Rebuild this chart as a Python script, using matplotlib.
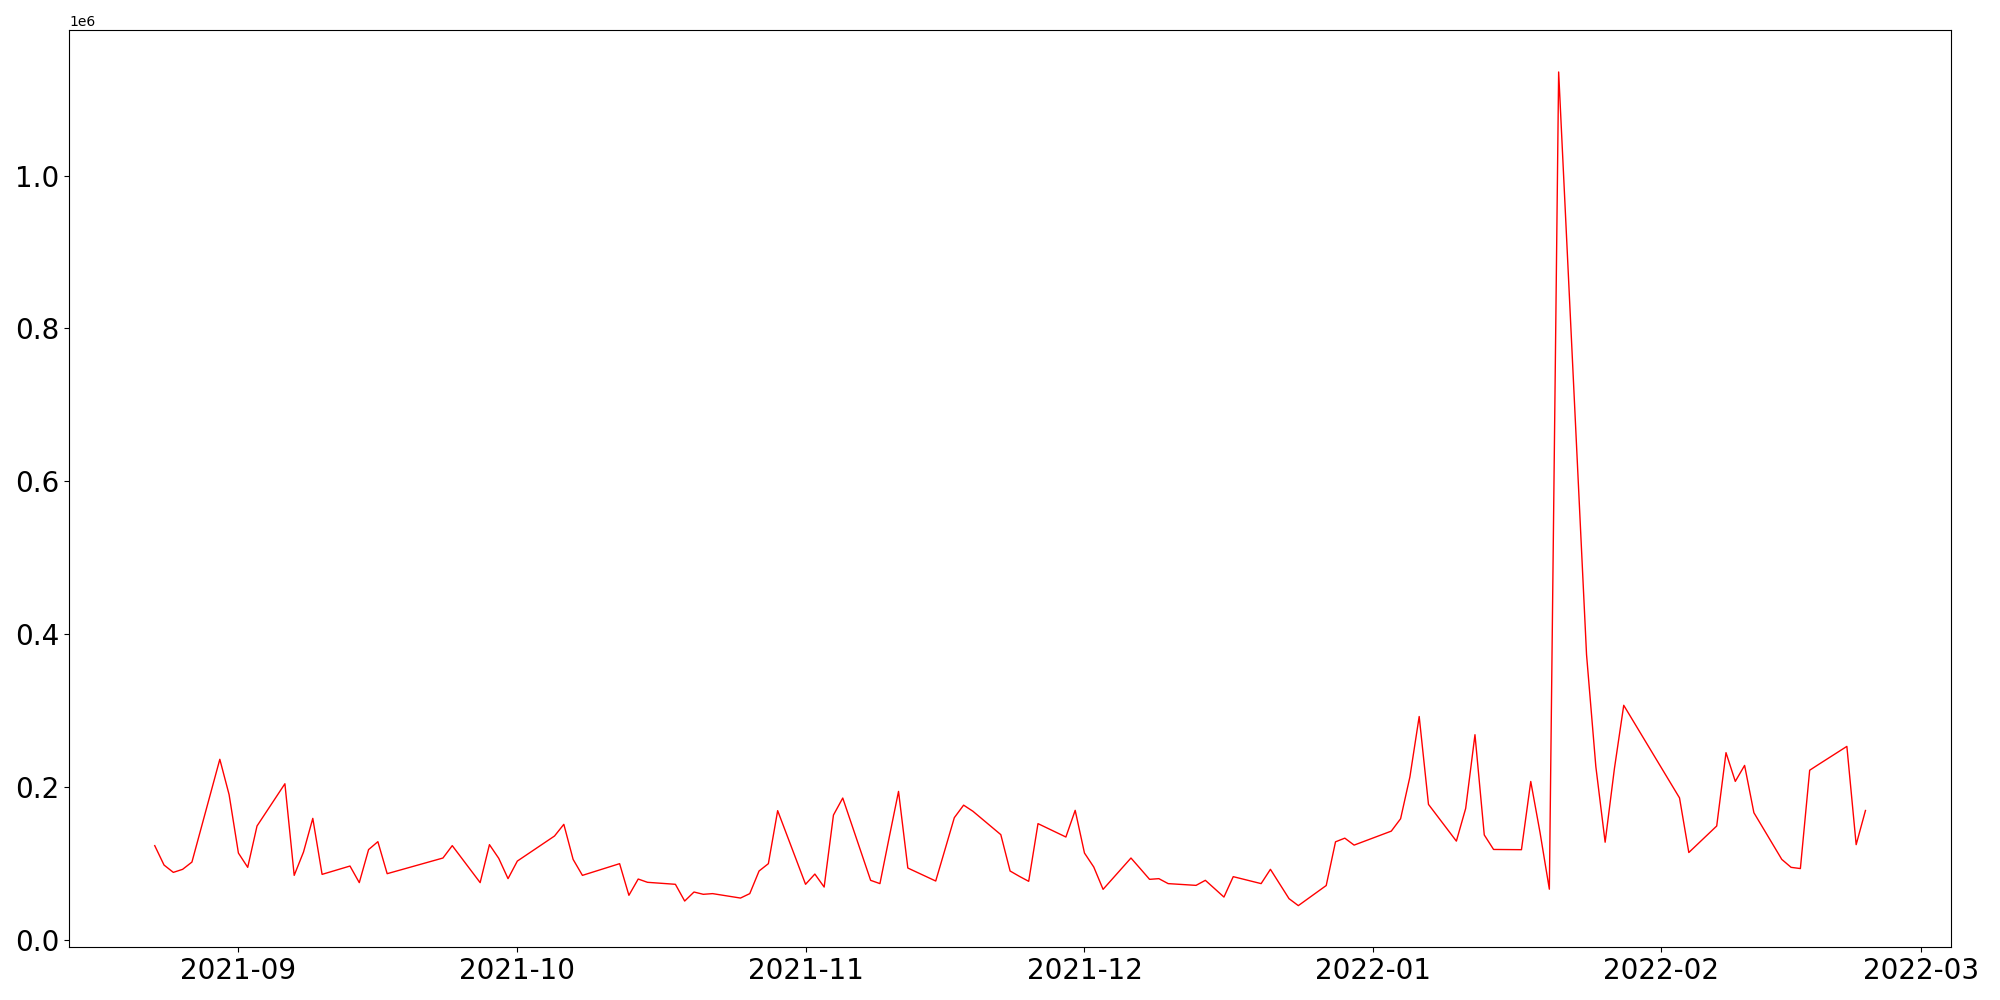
import matplotlib
matplotlib.use("Agg")
import matplotlib.pyplot as plt
import matplotlib.dates as mdates
import pandas as pd

dates = [
    "2021-08-23", "2021-08-24", "2021-08-25", "2021-08-26", "2021-08-27",
    "2021-08-30", "2021-08-31", "2021-09-01", "2021-09-02", "2021-09-03",
    "2021-09-06", "2021-09-07", "2021-09-08", "2021-09-09", "2021-09-10",
    "2021-09-13", "2021-09-14", "2021-09-15", "2021-09-16", "2021-09-17",
    "2021-09-23", "2021-09-24",
    "2021-09-27", "2021-09-28", "2021-09-29", "2021-09-30", "2021-10-01",
    "2021-10-05", "2021-10-06", "2021-10-07", "2021-10-08",
    "2021-10-12", "2021-10-13", "2021-10-14", "2021-10-15",
    "2021-10-18", "2021-10-19", "2021-10-20", "2021-10-21", "2021-10-22",
    "2021-10-25", "2021-10-26", "2021-10-27", "2021-10-28", "2021-10-29",
    "2021-11-01", "2021-11-02", "2021-11-03", "2021-11-04", "2021-11-05",
    "2021-11-08", "2021-11-09", "2021-11-10", "2021-11-11", "2021-11-12",
    "2021-11-15", "2021-11-16", "2021-11-17", "2021-11-18", "2021-11-19",
    "2021-11-22", "2021-11-23", "2021-11-24", "2021-11-25", "2021-11-26",
    "2021-11-29", "2021-11-30", "2021-12-01", "2021-12-02", "2021-12-03",
    "2021-12-06", "2021-12-07", "2021-12-08", "2021-12-09", "2021-12-10",
    "2021-12-13", "2021-12-14", "2021-12-15", "2021-12-16", "2021-12-17",
    "2021-12-20", "2021-12-21", "2021-12-22", "2021-12-23", "2021-12-24",
    "2021-12-27", "2021-12-28", "2021-12-29", "2021-12-30",
    "2022-01-03", "2022-01-04", "2022-01-05", "2022-01-06", "2022-01-07",
    "2022-01-10", "2022-01-11", "2022-01-12", "2022-01-13", "2022-01-14",
    "2022-01-17", "2022-01-18", "2022-01-19", "2022-01-20", "2022-01-21",
    "2022-01-24", "2022-01-25", "2022-01-26", "2022-01-27", "2022-01-28",
    "2022-02-03", "2022-02-04",
    "2022-02-07", "2022-02-08", "2022-02-09", "2022-02-10", "2022-02-11",
    "2022-02-14", "2022-02-15", "2022-02-16", "2022-02-17", "2022-02-18",
    "2022-02-21", "2022-02-22", "2022-02-23",
]

volumes = [
    123000, 97600, 88000, 92000, 101500,
    236000, 189700, 113300, 94600, 148700,
    204000, 84100, 114600, 158700, 85400,
    96300, 74600, 117800, 128200, 86300,
    106800, 123000,
    74600, 124300, 106400, 79800, 102800,
    135600, 150900, 105000, 84100,
    99400, 58000, 79300, 75000,
    72400, 50500, 62300, 59300, 60200,
    54400, 60200, 89800, 99400, 168800,
    72400, 85800, 68800, 163000, 185300,
    77600, 73300, 134000, 194000, 93700,
    76700, 118000, 159600, 176000, 168000,
    137400, 89800, 82800, 76300, 151800,
    134300, 169200, 113300, 95000, 65800,
    106800, 92900, 78900, 79800, 73300,
    71000, 77600, 66700, 55700, 82400,
    73300, 92000, 72800, 53600, 44500,
    70800, 128000, 132800, 123700,
    142000, 158200, 212900, 292000, 177000,
    128900, 171700, 268200, 137000, 118000,
    117700, 207000, 140000, 66000, 1135600,
    373000, 226500, 127500, 224000, 306700,
    185500, 114000,
    148700, 244700, 207100, 228000, 166100,
    105000, 94600, 93000, 221700, 229600,
    252900, 124300, 169000,
]

x = pd.to_datetime(dates)

fig, ax = plt.subplots(figsize=(20, 10), dpi=100)
ax.plot(x, volumes, color="red", linewidth=1.0)

ax.xaxis.set_major_locator(mdates.MonthLocator())
ax.xaxis.set_major_formatter(mdates.DateFormatter("%Y-%m"))
ax.tick_params(axis="both", labelsize=20)

fig.subplots_adjust(left=0.0346, right=0.9755, bottom=0.0527, top=0.9697)
fig.savefig("out.png", dpi=100)
